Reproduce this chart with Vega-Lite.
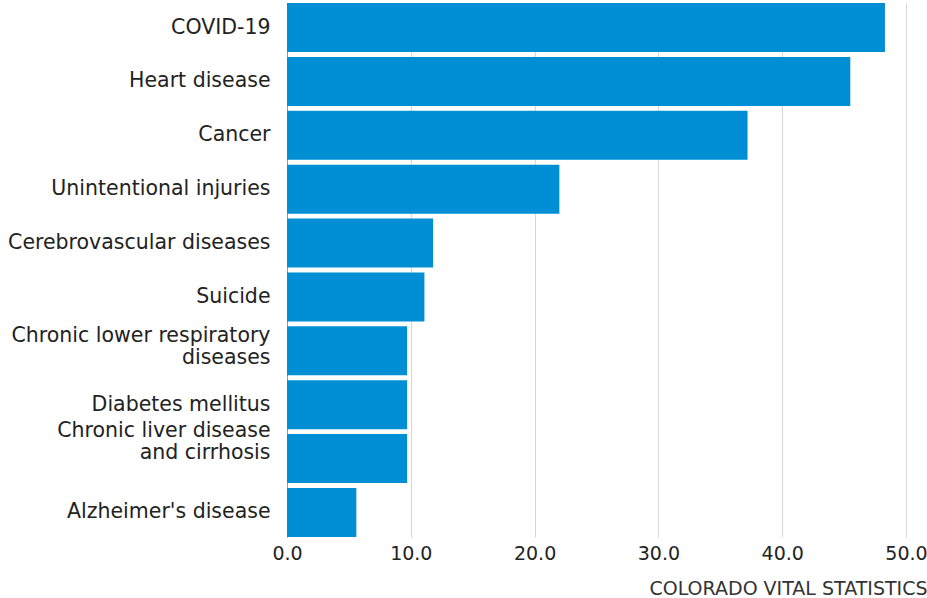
{
  "$schema": "https://vega.github.io/schema/vega-lite/v6.json",
  "autosize": {"type": "none"},
  "width": 619,
  "height": 534,
  "padding": {"left": 287, "top": 3, "right": 21, "bottom": 61},
  "background": "white",
  "data": {
    "values": [
      {"cause": "COVID-19", "rate": 48.3},
      {"cause": "Heart disease", "rate": 45.5},
      {"cause": "Cancer", "rate": 37.2},
      {"cause": "Unintentional injuries", "rate": 22.0},
      {"cause": "Cerebrovascular diseases", "rate": 11.8},
      {"cause": "Suicide", "rate": 11.1},
      {"cause": "Chronic lower respiratory diseases", "rate": 9.7},
      {"cause": "Diabetes mellitus", "rate": 9.7},
      {"cause": "Chronic liver disease and cirrhosis", "rate": 9.7},
      {"cause": "Alzheimer's disease", "rate": 5.6}
    ]
  },
  "mark": {"type": "bar", "color": "#008fd5"},
  "encoding": {
    "y": {
      "field": "cause",
      "type": "nominal",
      "sort": null,
      "scale": {"paddingInner": 0.09, "paddingOuter": 0},
      "axis": {
        "title": null,
        "ticks": false,
        "domain": true,
        "domainColor": "#999999",
        "domainWidth": 1,
        "labelFont": "DejaVu Sans",
        "labelFontSize": 20.5,
        "labelColor": "#222222",
        "labelPadding": 17,
        "labelLimit": 400,
        "labelLineHeight": 22,
        "labelOffset": {
          "condition": [
            {"test": "datum.value === 'Chronic liver disease and cirrhosis'", "value": -27.5},
            {"test": "datum.value === 'Chronic lower respiratory diseases'", "value": -14.5}
          ],
          "value": 0
        },
        "labelExpr": "datum.value === 'Chronic lower respiratory diseases' ? ['Chronic lower respiratory', 'diseases'] : datum.value === 'Chronic liver disease and cirrhosis' ? ['Chronic liver disease', 'and cirrhosis'] : datum.value"
      }
    },
    "x": {
      "field": "rate",
      "type": "quantitative",
      "scale": {"domain": [0, 50], "nice": false},
      "axis": {
        "title": "COLORADO VITAL STATISTICS",
        "titleFont": "DejaVu Sans",
        "titleFontSize": 19,
        "titleFontWeight": "normal",
        "titleColor": "#333333",
        "titleAnchor": "end",
        "titleAlign": "right",
        "titleX": 640,
        "titleY": 57,
        "titleBaseline": "alphabetic",
        "values": [0, 10, 20, 30, 40, 50],
        "format": ".1f",
        "domain": false,
        "ticks": false,
        "grid": true,
        "gridColor": "#d6d6d6",
        "gridWidth": 1,
        "labelFont": "DejaVu Sans",
        "labelFontSize": 19,
        "labelColor": "#222222",
        "labelPadding": 7,
        "labelFlush": false
      }
    }
  },
  "config": {"view": {"stroke": null}}
}
